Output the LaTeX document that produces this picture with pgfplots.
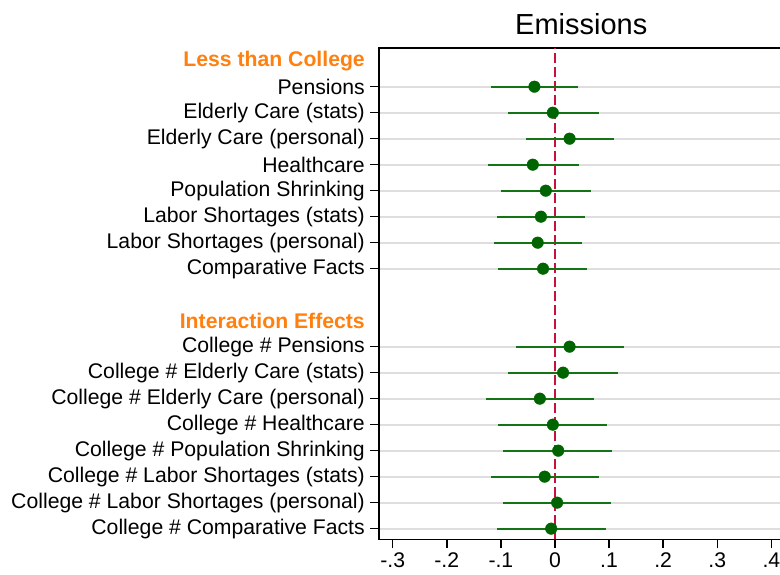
\documentclass[border=0pt]{standalone}
\usepackage{pgfplots}
\usepackage{pgfplotstable}
\pgfplotsset{compat=1.18}
\usepackage{fontspec}
\setmainfont{Liberation Sans}
\definecolor{dotgreen}{RGB}{0,100,0}
\definecolor{cigreen}{RGB}{20,115,20}
\definecolor{hdrorange}{RGB}{255,128,14}
\definecolor{zeroline}{RGB}{200,16,60}
\definecolor{gridgray}{RGB}{222,222,222}

% y = row position (0 at top), x = estimate, lo/hi = confidence interval
\pgfplotstableread{
y   x       lo      hi
0   -0.038  -0.119  0.043
-1  -0.004  -0.087  0.081
-2   0.027  -0.054  0.110
-3  -0.041  -0.123  0.044
-4  -0.017  -0.100  0.067
-5  -0.026  -0.107  0.055
-6  -0.032  -0.113  0.050
-7  -0.022  -0.105  0.060
}\lesscollege

\pgfplotstableread{
y    x       lo      hi
-10   0.027  -0.072  0.127
-11   0.015  -0.087  0.117
-12  -0.028  -0.128  0.073
-13  -0.004  -0.105  0.097
-14   0.006  -0.096  0.106
-15  -0.019  -0.118  0.081
-16   0.004  -0.096  0.103
-17  -0.007  -0.107  0.094
}\interaction

\begin{document}
\begin{tikzpicture}
\begin{axis}[
  at={(379pt,-539.3pt)}, anchor=south west,
  scale only axis, width=408.6pt, height=491.3pt,
  xmin=-0.3253, xmax=0.43, ymin=-17.41, ymax=1.488,
  axis line style={line width=1.5pt, black},
  tick align=outside, major tick length=9pt,
  xtick pos=bottom, ytick pos=left,
  tick style={line width=1.5pt, black},
  xtick={-0.3,-0.2,-0.1,0,0.1,0.2,0.3,0.4},
  xticklabels={-.3,-.2,-.1,0,.1,.2,.3,.4},
  ytick={0,-1,-2,-3,-4,-5,-6,-7,-10,-11,-12,-13,-14,-15,-16,-17},
  yticklabels={Pensions, Elderly Care (stats), Elderly Care (personal), Healthcare, Population Shrinking, Labor Shortages (stats), Labor Shortages (personal), Comparative Facts,
    College \# Pensions, College \# Elderly Care (stats), College \# Elderly Care (personal), College \# Healthcare, College \# Population Shrinking, College \# Labor Shortages (stats), College \# Labor Shortages (personal), College \# Comparative Facts},
  tick label style={font=\fontsize{21.2}{25}\selectfont, inner sep=0pt},
  yticklabel shift=5pt,
  xticklabel shift=4pt,
  ymajorgrids,
  major grid style={line width=1.8pt, gridgray},
  title={Emissions},
  title style={font=\fontsize{29}{34}\selectfont, anchor=base, at={(0.5,1)}, yshift=7.7pt, xshift=-2pt, inner sep=0pt},
  clip=false,
]
\addplot[zeroline, line width=2pt, dash pattern=on 10pt off 4pt] coordinates {(0,-17.41) (0,1.488)};
\addplot[only marks, mark=*, mark size=5.8pt, mark options={fill=dotgreen, draw=dotgreen},
  error bars/.cd, x dir=both, x explicit, error mark=none,
  error bar style={line width=2pt, cigreen}]
  table[x=x, y=y, x error plus expr=\thisrow{hi}-\thisrow{x}, x error minus expr=\thisrow{x}-\thisrow{lo}] {\lesscollege};
\addplot[only marks, mark=*, mark size=5.8pt, mark options={fill=dotgreen, draw=dotgreen},
  error bars/.cd, x dir=both, x explicit, error mark=none,
  error bar style={line width=2pt, cigreen}]
  table[x=x, y=y, x error plus expr=\thisrow{hi}-\thisrow{x}, x error minus expr=\thisrow{x}-\thisrow{lo}] {\interaction};
\node[anchor=east, inner sep=0pt, xshift=-14pt, text=hdrorange, font=\fontsize{21.2}{25}\selectfont\bfseries] at (axis cs:-0.3253,1) {Less than College};
\node[anchor=east, inner sep=0pt, xshift=-14pt, text=hdrorange, font=\fontsize{21.2}{25}\selectfont\bfseries] at (axis cs:-0.3253,-9) {Interaction Effects};
\end{axis}
\pgfresetboundingbox
\path[use as bounding box] (0,0) rectangle (780pt,-574pt);
\end{tikzpicture}
\end{document}
